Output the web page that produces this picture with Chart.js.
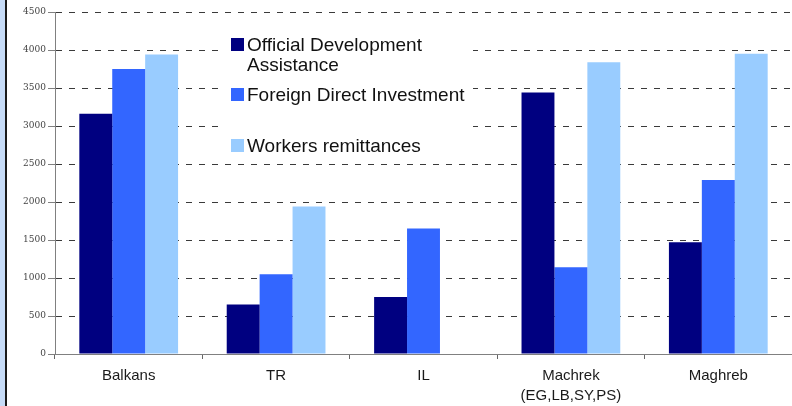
<!DOCTYPE html>
<html>
<head>
<meta charset="utf-8">
<script src="https://cdn.jsdelivr.net/npm/chart.js@4/dist/chart.umd.min.js"></script>
<style>
  html, body { margin: 0; padding: 0; background: #fff; }
  #wrap { position: relative; width: 792px; height: 406px; }
  #edge { position: absolute; left: 0; top: 0; width: 5px; height: 406px; background: #c6dbf7; border-right: 2px solid #1a1a1a; }
</style>
</head>
<body>
<div id="wrap">
  <canvas id="chart" width="792" height="406"></canvas>
  <div id="edge"></div>
</div>
<script>
// Regions on the x axis
const categories = ['Balkans', 'TR', 'IL', ['Machrek', '(EG,LB,SY,PS)'], 'Maghreb'];

// Series values
const odaValues = [3160, 650, 750, 3440, 1470];
const fdiValues = [3750, 1050, 1650, 1140, 2290];
const remittanceValues = [3940, 1940, null, 3840, 3950];

// Legend text (first one wraps onto two lines)
const seriesNames = [
    ['Official Development', 'Assistance'],
    ['Foreign Direct Investment'],
    ['Workers remittances']
];
const seriesColors = ['#000080', '#3366ff', '#99ccff'];

// Y axis ticks
const yTicks = [0, 500, 1000, 1500, 2000, 2500, 3000, 3500, 4000, 4500];

/**
 * Legend drawn inside the plot, on a white box over the grid lines
 */
const insideLegend = {
    id: 'insideLegend',
    afterDraw(chart) {
        const ctx = chart.ctx;
        const rows = [51, 101, 152]; // baselines of each entry
        ctx.save();
        ctx.fillStyle = '#fff';
        ctx.fillRect(225, 22, 248, 136);
        ctx.font = '19px "Liberation Sans", Arial, sans-serif';
        ctx.textBaseline = 'alphabetic';
        chart.data.datasets.forEach((ds, i) => {
            const base = rows[i];
            ctx.fillStyle = ds.backgroundColor;
            ctx.fillRect(231, base - 13, 13, 13);
            ctx.fillStyle = '#111';
            seriesNames[i].forEach((line, j) => ctx.fillText(line, 247, base + j * 20));
        });
        ctx.restore();
    }
};

const ctx = document.getElementById('chart').getContext('2d');
new Chart(ctx, {
    type: 'bar',
    data: {
        labels: categories,
        datasets: [
            { label: seriesNames[0].join(' '), data: odaValues, backgroundColor: seriesColors[0] },
            { label: seriesNames[1].join(' '), data: fdiValues, backgroundColor: seriesColors[1] },
            { label: seriesNames[2].join(' '), data: remittanceValues, backgroundColor: seriesColors[2] }
        ]
    },
    options: {
        responsive: false,
        animation: false,
        layout: { padding: { top: 12, right: 0, left: 0, bottom: 0 } },
        datasets: { bar: { categoryPercentage: 0.67, barPercentage: 1.0 } },
        plugins: {
            legend: { display: false },
            tooltip: { enabled: false }
        },
        scales: {
            x: {
                afterFit(scale) { scale.height = 52; },
                grid: { drawOnChartArea: false, color: '#666', tickLength: 5, offset: true },
                border: { color: '#808080', width: 1 },
                ticks: {
                    color: '#1a1a1a',
                    padding: 7,
                    maxRotation: 0,
                    autoSkip: false,
                    font: { family: '"Liberation Sans", Arial, sans-serif', size: 15, lineHeight: 1.33 }
                }
            },
            y: {
                min: 0,
                max: 4500,
                afterFit(scale) { scale.width = 55; },
                afterBuildTicks(scale) { scale.ticks = yTicks.map(v => ({ value: v })); },
                grid: { color: '#3a3a3a', lineWidth: 1, tickLength: 7, tickColor: '#808080' },
                border: { color: '#808080', width: 1, dash: [6, 7] },
                ticks: {
                    color: '#444',
                    padding: 2,
                    callback: v => String(v),
                    font: { family: '"DejaVu Serif", serif', size: 9 }
                }
            }
        }
    },
    plugins: [insideLegend]
});
</script>
</body>
</html>
